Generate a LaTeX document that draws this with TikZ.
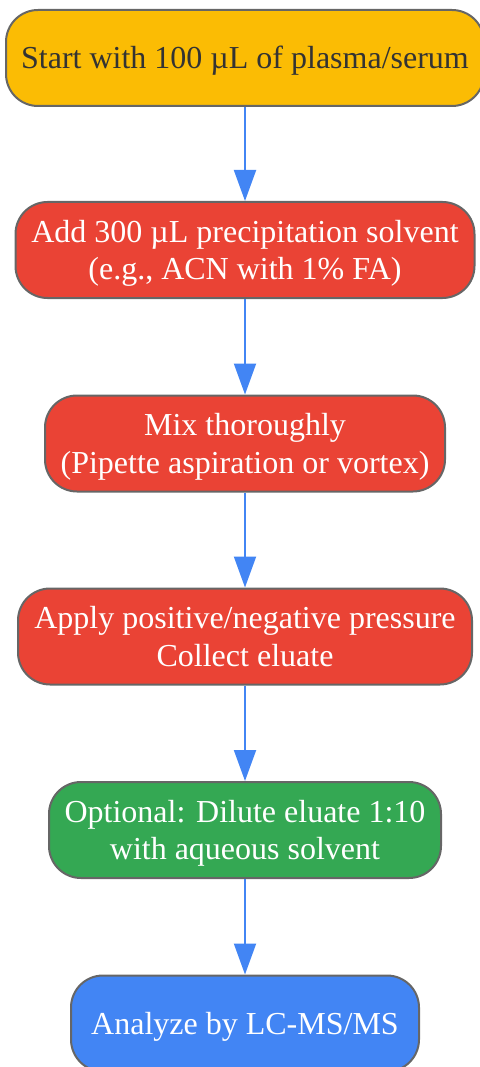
\documentclass[tikz,border=0pt]{standalone}
\usepackage{fontspec}
\setmainfont{Liberation Serif}
\usetikzlibrary{arrows.meta}
\definecolor{cyellow}{HTML}{FBBC04}
\definecolor{cred}{HTML}{EA4335}
\definecolor{cgreen}{HTML}{34A853}
\definecolor{cblue}{HTML}{4285F4}
\definecolor{cborder}{HTML}{666666}
\definecolor{cdark}{HTML}{333333}
\newcommand\boxlines[1]{\raisebox{-3.5pt}[\height][\depth]{\begin{tabular}{@{}c@{}}#1\end{tabular}}}
\begin{document}
\begin{tikzpicture}[x=1pt,y=-1pt,
  box/.style={draw=cborder, line width=2pt, rounded corners=32pt,
    inner sep=0pt, minimum height=96pt, text=white,
    font=\fontsize{32}{37.5}\selectfont},
  flow/.style={draw=cblue, line width=2pt, -{Triangle[width=22pt,length=31pt]}}]
\useasboundingbox (0,0) rectangle (479,1067);
\node[box, fill=cyellow, text=cdark, minimum width=478pt] (b1) at (245,58) {\boxlines{Start with 100 µL of plasma/serum}};
\node[box, fill=cred, minimum width=459pt] (b2) at (245,250) {\boxlines{Add 300 µL precipitation solvent\\(e.g., ACN with 1\% FA)}};
\node[box, fill=cred, minimum width=400pt] (b3) at (245,443.5) {\boxlines{Mix thoroughly\\(Pipette aspiration or vortex)}};
\node[box, fill=cred, minimum width=454pt] (b4) at (245,636.5) {\boxlines{Apply positive/negative pressure\\Collect eluate}};
\node[box, fill=cgreen, minimum width=392pt] (b5) at (245,830) {\boxlines{Optional: Dilute eluate 1:10\\with aqueous solvent}};
\node[box, fill=cblue, minimum width=348pt] (b6) at (245,1023.5) {\boxlines{Analyze by LC-MS/MS}};
\draw[flow] (b1) -- (b2);
\draw[flow] (b2) -- (b3);
\draw[flow] (b3) -- (b4);
\draw[flow] (b4) -- (b5);
\draw[flow] (b5) -- (b6);
\end{tikzpicture}
\end{document}
